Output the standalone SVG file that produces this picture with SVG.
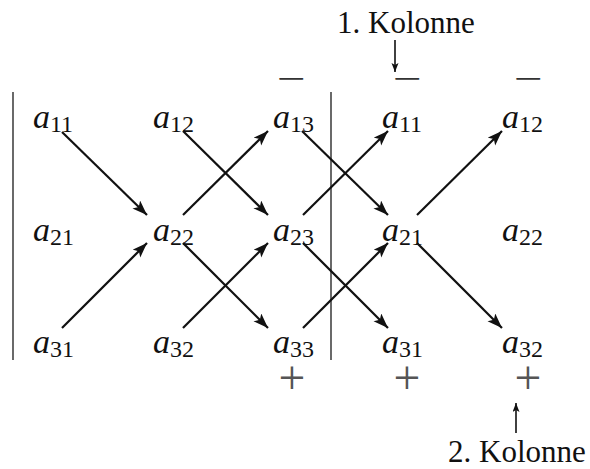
<svg xmlns="http://www.w3.org/2000/svg" width="590" height="469" viewBox="0 0 590 469">
<style>
.a{font-family:"Liberation Serif","Times New Roman",serif;font-style:italic;font-size:34px;fill:#111}
.sub{font-style:normal;font-size:24px}
.minus{font-family:"Liberation Serif",serif;font-size:34px;fill:#333;text-anchor:middle}
.plus{font-family:"Liberation Serif",serif;font-size:34px;fill:#555;text-anchor:middle}
.lbl{font-family:"Liberation Serif",serif;font-size:31px;fill:#111}
.bar{stroke:#444;stroke-width:1.6}
.ar{stroke:#111;stroke-width:2.2;fill:none;marker-end:url(#ah)}
.thin{stroke:#111;stroke-width:1.6;fill:none;marker-end:url(#ahs)}
</style>
<defs>
<marker id="ah" markerUnits="userSpaceOnUse" markerWidth="16" markerHeight="12" refX="15" refY="5.5" orient="auto">
<path d="M0,0 L15,5.5 L0,11 L3.5,5.5 z" fill="#111"/>
</marker>
<marker id="ahs" markerUnits="userSpaceOnUse" markerWidth="10" markerHeight="8" refX="9" refY="3.5" orient="auto">
<path d="M0,0 L9,3.5 L0,7 L2,3.5 z" fill="#111"/>
</marker>
</defs>
<rect width="590" height="469" fill="#fff"/>
<g id="bars">
<line class="bar" x1="13" y1="92" x2="13" y2="360"/>
<line class="bar" x1="331" y1="92" x2="331" y2="360"/>
</g>
<g id="signs">
<text class="minus" transform="translate(291,90) scale(1.5,1)">−</text>
<text class="minus" transform="translate(407,90) scale(1.5,1)">−</text>
<text class="minus" transform="translate(528,90) scale(1.5,1)">−</text>
<text class="plus" y="10" transform="translate(292,380) scale(1.4)">+</text>
<text class="plus" y="10" transform="translate(407,380) scale(1.4)">+</text>
<text class="plus" y="10" transform="translate(528,380) scale(1.4)">+</text>
</g>
<g id="n11"><text class="a" x="33" y="128">a<tspan class="sub" dy="4">11</tspan></text></g>
<g id="n12"><text class="a" x="153" y="128">a<tspan class="sub" dy="4">12</tspan></text></g>
<g id="n13"><text class="a" x="273" y="128">a<tspan class="sub" dy="4">13</tspan></text></g>
<g id="n11b"><text class="a" x="382" y="128">a<tspan class="sub" dy="4">11</tspan></text></g>
<g id="n12b"><text class="a" x="502" y="128">a<tspan class="sub" dy="4">12</tspan></text></g>
<g id="n21"><text class="a" x="33" y="241">a<tspan class="sub" dy="4">21</tspan></text></g>
<g id="n22"><text class="a" x="153" y="241">a<tspan class="sub" dy="4">22</tspan></text></g>
<g id="n23"><text class="a" x="273" y="241">a<tspan class="sub" dy="4">23</tspan></text></g>
<g id="n21b"><text class="a" x="382" y="241">a<tspan class="sub" dy="4">21</tspan></text></g>
<g id="n22b"><text class="a" x="502" y="241">a<tspan class="sub" dy="4">22</tspan></text></g>
<g id="n31"><text class="a" x="33" y="353">a<tspan class="sub" dy="4">31</tspan></text></g>
<g id="n32"><text class="a" x="153" y="353">a<tspan class="sub" dy="4">32</tspan></text></g>
<g id="n33"><text class="a" x="273" y="353">a<tspan class="sub" dy="4">33</tspan></text></g>
<g id="n31b"><text class="a" x="382" y="353">a<tspan class="sub" dy="4">31</tspan></text></g>
<g id="n32b"><text class="a" x="502" y="353">a<tspan class="sub" dy="4">32</tspan></text></g>
<g id="lbl1"><text class="lbl" x="337" y="33">1. Kolonne</text></g>
<g id="lbl2"><text class="lbl" x="448" y="462">2. Kolonne</text></g>
<g id="connectors">
<line class="ar" x1="62" y1="132" x2="147" y2="215"/>
<line class="ar" x1="183" y1="215" x2="268" y2="131"/>
<line class="ar" x1="183" y1="131" x2="268" y2="215"/>
<line class="ar" x1="62" y1="328" x2="147" y2="243"/>
<line class="ar" x1="183" y1="328" x2="268" y2="243"/>
<line class="ar" x1="183" y1="243" x2="268" y2="328"/>
<line class="ar" x1="302" y1="131" x2="388" y2="215"/>
<line class="ar" x1="303" y1="215" x2="388" y2="131"/>
<line class="ar" x1="417" y1="215" x2="502" y2="131"/>
<line class="ar" x1="303" y1="243" x2="388" y2="328"/>
<line class="ar" x1="303" y1="328" x2="388" y2="243"/>
<line class="ar" x1="417" y1="243" x2="502" y2="328"/>
<line class="thin" x1="395" y1="40" x2="395" y2="72"/>
<line class="thin" x1="516" y1="433" x2="516" y2="403"/>
</g>
</svg>
